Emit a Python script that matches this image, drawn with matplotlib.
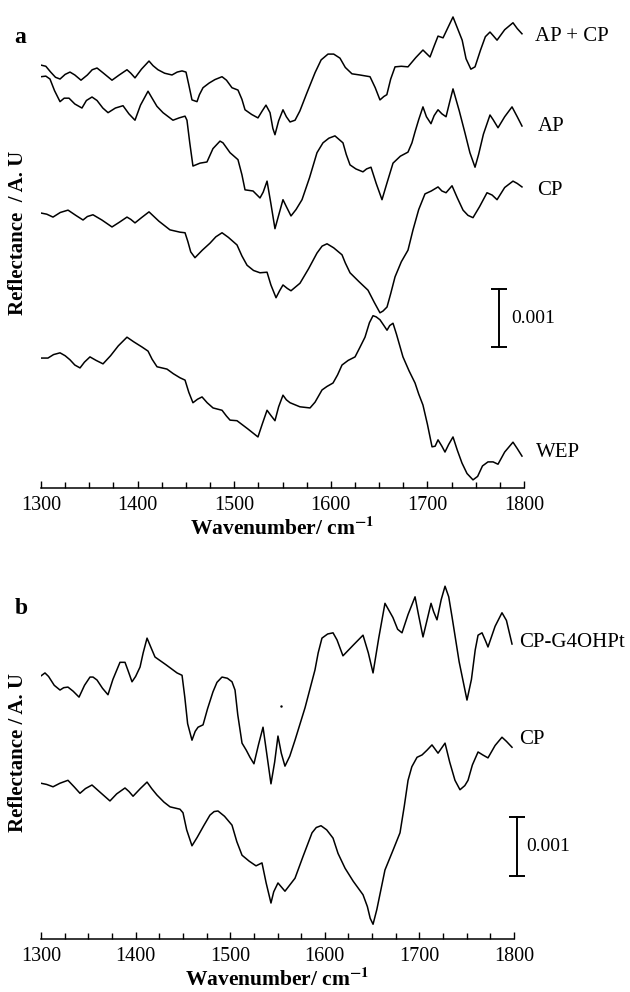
import matplotlib
matplotlib.use("Agg")
import matplotlib.pyplot as plt
from matplotlib.ticker import MultipleLocator

plt.rcParams['font.family'] = ['Liberation Serif', 'DejaVu Serif']
plt.rcParams['mathtext.fontset'] = 'stix'

# offset reflectance spectra, y values in units of 0.001 A.U.
# --- panel a ---
wn_apcp = [1300, 1305, 1310, 1315, 1319.7, 1325, 1330, 1335, 1341.4, 1348, 1353, 1358, 1364,
           1373.5, 1381, 1389, 1393, 1397.3, 1404, 1411.8, 1416, 1421.1, 1428, 1435.6, 1441,
           1446, 1450.1, 1453, 1456.3, 1461.5, 1464, 1467.7, 1474, 1480, 1487.4, 1492, 1497.7,
           1503.9, 1508, 1511.2, 1518, 1524.6, 1529, 1532.9, 1537.1, 1540, 1542.2, 1546,
           1550.5, 1554, 1557.8, 1563, 1568, 1575, 1583.7, 1590, 1597.1, 1603, 1609.5, 1615,
           1621.9, 1630, 1640.6, 1646, 1650.9, 1655, 1658, 1662, 1666.5, 1673, 1679.9, 1688,
           1695.4, 1702.7, 1707, 1711, 1716.2, 1726.5, 1736, 1740, 1745, 1749.3, 1755, 1760,
           1764.8, 1768, 1772.1, 1780, 1788.6, 1793, 1797.9]
r_apcp = [7.29, 7.27, 7.17, 7.08, 7.05, 7.13, 7.17, 7.12, 7.03, 7.12, 7.21, 7.24, 7.16,
          7.03, 7.12, 7.21, 7.15, 7.07, 7.22, 7.36, 7.28, 7.21, 7.15, 7.12, 7.17,
          7.19, 7.17, 6.95, 6.69, 6.66, 6.78, 6.90, 6.98, 7.04, 7.09, 7.03, 6.90,
          6.86, 6.70, 6.52, 6.44, 6.38, 6.50, 6.60, 6.47, 6.20, 6.09, 6.33,
          6.52, 6.40, 6.31, 6.34, 6.50, 6.80, 7.16, 7.38, 7.48, 7.48, 7.41, 7.25,
          7.14, 7.12, 7.09, 6.90, 6.69, 6.75, 6.78, 7.05, 7.26, 7.27, 7.26, 7.42,
          7.55, 7.43, 7.62, 7.79, 7.76, 8.12, 7.72, 7.40, 7.22, 7.26, 7.55, 7.78,
          7.86, 7.80, 7.72, 7.90, 8.02, 7.92, 7.83]

wn_ap = [1300, 1305, 1309.3, 1314, 1319.7, 1324, 1329, 1335, 1342.4, 1347, 1352.8, 1358,
         1364, 1369.4, 1377, 1384.9, 1391, 1397.3, 1403, 1410.8, 1415, 1420, 1426.3, 1436.6,
         1443, 1449.1, 1451.1, 1454, 1457.3, 1464.6, 1471.8, 1478, 1485.3, 1488.4, 1495.7,
         1503.9, 1508, 1511.2, 1519.5, 1526.7, 1530, 1534.0, 1538, 1542.2, 1546, 1550.5,
         1554, 1558.8, 1564, 1570.2, 1578, 1585.7, 1591.9, 1598, 1604.3, 1612.6, 1616,
         1619.9, 1626, 1633.3, 1637, 1641.6, 1647, 1653.0, 1658, 1664.4, 1672, 1679.9, 1684,
         1687.2, 1691, 1695.4, 1699, 1703.7, 1707, 1711.0, 1715, 1719.3, 1723, 1726.5, 1733,
         1738.9, 1744, 1749.3, 1753, 1758, 1764.8, 1768, 1773.1, 1780, 1787.6, 1793, 1797.9]
r_ap = [7.09, 7.10, 7.05, 6.85, 6.66, 6.72, 6.72, 6.62, 6.55, 6.68, 6.74, 6.68,
        6.55, 6.47, 6.55, 6.59, 6.45, 6.34, 6.60, 6.84, 6.72, 6.58, 6.47, 6.34,
        6.38, 6.41, 6.34, 5.95, 5.55, 5.60, 5.62, 5.85, 5.98, 5.95, 5.78,
        5.66, 5.40, 5.14, 5.12, 5.00, 5.10, 5.29, 4.90, 4.47, 4.70, 4.97,
        4.85, 4.69, 4.80, 4.97, 5.35, 5.78, 5.95, 6.03, 6.07, 5.95, 5.75,
        5.57, 5.50, 5.45, 5.50, 5.53, 5.25, 4.97, 5.25, 5.60, 5.72, 5.79, 5.95,
        6.14, 6.35, 6.57, 6.40, 6.28, 6.42, 6.52, 6.45, 6.40, 6.65, 6.88, 6.50,
        6.12, 5.78, 5.53, 5.75, 6.10, 6.43, 6.35, 6.21, 6.40, 6.57, 6.40, 6.24]

wn_cp_a = [1300, 1306, 1312.4, 1320, 1328, 1336, 1343.5, 1348, 1353.8, 1363, 1373.5, 1381,
           1389, 1393, 1397.3, 1404, 1411.8, 1422, 1433.5, 1443.9, 1449.1, 1452, 1455, 1459.4,
           1467, 1474.9, 1481, 1487.4, 1494, 1502.9, 1508, 1513.3, 1520, 1526.7, 1534, 1538,
           1543.3, 1547, 1550.5, 1555, 1558.8, 1568.1, 1577, 1585.7, 1591, 1596.1, 1603,
           1611.6, 1615, 1619.9, 1629, 1638.5, 1645, 1650.9, 1654, 1658.2, 1662, 1666.5, 1673,
           1679.9, 1685.1, 1691, 1697.5, 1704, 1711, 1715, 1719.3, 1725.5, 1731, 1736.9, 1742,
           1747.2, 1754, 1761.7, 1767, 1772.1, 1780, 1788.6, 1793, 1797.9]
r_cp_a = [4.74, 4.72, 4.67, 4.75, 4.79, 4.70, 4.62, 4.68, 4.71, 4.62, 4.50, 4.58,
          4.67, 4.63, 4.57, 4.66, 4.76, 4.60, 4.45, 4.41, 4.40, 4.25, 4.07, 3.97,
          4.10, 4.22, 4.33, 4.40, 4.32, 4.19, 4.00, 3.84, 3.75, 3.71, 3.72, 3.50,
          3.28, 3.40, 3.50, 3.44, 3.40, 3.53, 3.78, 4.05, 4.17, 4.21, 4.14,
          4.02, 3.88, 3.71, 3.56, 3.41, 3.20, 3.02, 3.05, 3.12, 3.35, 3.64, 3.90,
          4.10, 4.45, 4.80, 5.07, 5.12, 5.19, 5.12, 5.09, 5.21, 5.00, 4.79, 4.70,
          4.66, 4.85, 5.09, 5.05, 4.97, 5.18, 5.29, 5.25, 5.19]

wn_wep = [1300, 1307.2, 1313, 1319.7, 1325, 1330, 1335, 1340.4, 1345, 1350.7, 1357, 1364.2,
          1372, 1380, 1389, 1396, 1404.6, 1410.8, 1415, 1420.1, 1430.4, 1437, 1443.9, 1449.1,
          1453, 1457.3, 1462, 1466.7, 1472, 1478.1, 1487.4, 1492, 1495.7, 1502.9, 1514,
          1524.6, 1529, 1534, 1538, 1542.2, 1546, 1550.5, 1554, 1557.8, 1568, 1578.5, 1583.7,
          1590.9, 1596, 1602.3, 1607, 1611.6, 1618, 1625.1, 1630, 1635.4, 1640, 1643.7, 1647,
          1650.9, 1655, 1658.2, 1661, 1664.4, 1668, 1674.7, 1681, 1687.2, 1691, 1695.4, 1700,
          1704.8, 1708, 1711, 1715, 1718.2, 1722, 1726.5, 1731, 1735.8, 1741, 1747.2, 1752,
          1757, 1762.7, 1768, 1773.1, 1780, 1788.6, 1793, 1797.9]
r_wep = [2.24, 2.24, 2.30, 2.33, 2.28, 2.21, 2.12, 2.07, 2.17, 2.26, 2.20, 2.14,
         2.28, 2.45, 2.60, 2.52, 2.43, 2.36, 2.22, 2.09, 2.05, 1.97, 1.90, 1.86,
         1.65, 1.47, 1.53, 1.57, 1.47, 1.38, 1.34, 1.24, 1.17, 1.16, 1.02,
         0.88, 1.10, 1.34, 1.25, 1.16, 1.40, 1.60, 1.52, 1.47, 1.40, 1.38, 1.48,
         1.69, 1.75, 1.81, 1.95, 2.12, 2.20, 2.26, 2.42, 2.60, 2.85, 2.97, 2.95,
         2.90, 2.80, 2.72, 2.80, 2.84, 2.65, 2.26, 2.02, 1.81, 1.62, 1.43, 1.10,
         0.71, 0.72, 0.83, 0.72, 0.62, 0.75, 0.88, 0.65, 0.43, 0.25, 0.14, 0.20,
         0.38, 0.45, 0.45, 0.41, 0.62, 0.79, 0.68, 0.55]

# --- panel b ---
wn_g4 = [1300, 1304.2, 1308, 1314, 1320.1, 1324, 1328.5, 1334, 1340.2, 1346, 1351.8, 1355,
         1359.2, 1365, 1370.8, 1376, 1383.5, 1388.8, 1392, 1396.2, 1400, 1404.7, 1408, 1412.1,
         1416, 1420.5, 1432, 1443.8, 1449.1, 1452, 1455, 1459.6, 1463, 1466, 1471.3, 1476,
         1481.8, 1486, 1491.3, 1497, 1501.9, 1505.1, 1508, 1512.5, 1517, 1520.9, 1525.1, 1530,
         1534.7, 1539, 1543.1, 1547, 1550.5, 1554, 1557.9, 1563, 1568.5, 1579.1, 1589.6, 1593,
         1597, 1603, 1608.7, 1612.9, 1619.2, 1630, 1640.4, 1646, 1651, 1657, 1663.6, 1672,
         1677, 1681.6, 1688, 1695.4, 1699, 1703.8, 1708, 1712.3, 1715, 1718.6, 1723, 1727.1,
         1731, 1734.5, 1742, 1750.3, 1755, 1759, 1762, 1766.2, 1770, 1772.5, 1780, 1787.3,
         1792, 1797.9]
r_g4 = [4.46, 4.51, 4.45, 4.30, 4.22, 4.26, 4.27, 4.20, 4.10, 4.30, 4.44, 4.44,
        4.39, 4.25, 4.14, 4.40, 4.69, 4.69, 4.55, 4.36, 4.45, 4.61, 4.85, 5.10,
        4.95, 4.78, 4.65, 4.51, 4.47, 4.10, 3.65, 3.37, 3.52, 3.59, 3.63, 3.90,
        4.19, 4.35, 4.44, 4.42, 4.36, 4.22, 3.80, 3.32, 3.20, 3.08, 2.97, 3.30,
        3.59, 3.10, 2.63, 3.00, 3.44, 3.15, 2.93, 3.10, 3.37, 3.92, 4.56, 4.85,
        5.10, 5.17, 5.19, 5.07, 4.80, 4.98, 5.15, 4.85, 4.51, 5.10, 5.69, 5.45,
        5.25, 5.19, 5.50, 5.80, 5.50, 5.12, 5.40, 5.69, 5.55, 5.41, 5.75, 5.98,
        5.80, 5.46, 4.70, 4.05, 4.40, 4.90, 5.15, 5.19, 5.05, 4.95, 5.30, 5.53,
        5.40, 5.00]

wn_cp_b = [1300, 1306, 1312.7, 1320, 1328.5, 1335, 1341.2, 1347, 1353.9, 1363, 1372.9, 1380,
           1388.8, 1393, 1397.3, 1405, 1412.1, 1417, 1422.6, 1430, 1436.4, 1446.9, 1450.1, 1454,
           1459.6, 1465, 1472, 1478.6, 1483, 1487.1, 1494, 1501.9, 1507, 1512.5, 1520, 1527.3,
           1533.6, 1538, 1543.1, 1546, 1550.5, 1557.9, 1568.5, 1577, 1586.5, 1591, 1596, 1602,
           1608.7, 1614, 1621.4, 1630, 1640.4, 1645, 1648, 1651, 1655, 1663.6, 1672, 1679.5,
           1684, 1688, 1692, 1697.5, 1702.8, 1708, 1713.3, 1719.7, 1727.1, 1732, 1737.6, 1742.9,
           1748, 1751.4, 1756, 1762, 1767, 1772.5, 1780, 1787.3, 1792, 1797.9]
r_cp_b = [2.64, 2.62, 2.58, 2.64, 2.69, 2.58, 2.47, 2.55, 2.61, 2.48, 2.34, 2.46,
          2.56, 2.50, 2.42, 2.55, 2.66, 2.55, 2.44, 2.32, 2.24, 2.20, 2.14, 1.85,
          1.58, 1.72, 1.92, 2.10, 2.16, 2.17, 2.08, 1.93, 1.65, 1.42, 1.32, 1.24,
          1.29, 0.95, 0.61, 0.80, 0.95, 0.81, 1.03, 1.40, 1.80, 1.89, 1.92, 1.85,
          1.71, 1.45, 1.20, 0.98, 0.75, 0.55, 0.35, 0.25, 0.50, 1.17, 1.50, 1.80,
          2.25, 2.69, 2.92, 3.08, 3.12, 3.20, 3.29, 3.15, 3.32, 3.00, 2.69, 2.53,
          2.60, 2.69, 2.95, 3.17, 3.12, 3.07, 3.28, 3.42, 3.35, 3.25]

# small speck next to the upper trace in panel b
speck_wn, speck_r = [1553.7], [3.95]

fig = plt.figure(figsize=(6.3, 9.92), dpi=100)
ax_a = fig.add_axes([41 / 630, 1 - 488 / 992, 483 / 630, 478 / 992])
ax_b = fig.add_axes([41 / 630, 1 - 939 / 992, 473 / 630, 364 / 992])


def style_axis(ax, ytop):
    ax.set_xlim(1300, 1800)
    ax.set_ylim(0, ytop)
    for side in ['left', 'right', 'top']:
        ax.spines[side].set_visible(False)
    ax.spines['bottom'].set_linewidth(1.1)
    ax.set_yticks([])
    ax.xaxis.set_major_locator(MultipleLocator(100))
    ax.xaxis.set_minor_locator(MultipleLocator(25))
    ax.tick_params(axis='x', which='major', direction='in', length=5, width=1.0,
                   labelsize=14.5, pad=6)
    ax.tick_params(axis='x', which='minor', direction='in', length=4, width=1.0)
    ax.set_xlabel(r'Wavenumber/ cm$^{\mathbf{-1}}$', fontsize=15.5,
                  fontweight='bold', labelpad=1)
    ax.patch.set_alpha(0)


line_kw = dict(color='black', lw=1.1, solid_joinstyle='round')

# panel a
style_axis(ax_a, 8.24)
ax_a.plot(wn_apcp, r_apcp, **line_kw)
ax_a.plot(wn_ap, r_ap, **line_kw)
ax_a.plot(wn_cp_a, r_cp_a, **line_kw)
ax_a.plot(wn_wep, r_wep, **line_kw)
txt_kw = dict(fontsize=15, va='center', ha='left', clip_on=False)
ax_a.text(1811, 7.79, 'AP + CP', **txt_kw)
ax_a.text(1814, 6.24, 'AP', **txt_kw)
ax_a.text(1814, 5.12, 'CP', **txt_kw)
ax_a.text(1812, 0.62, 'WEP', **txt_kw)
# scale bar: 0.001 A.U.
ax_a.plot([1774, 1774], [2.43, 2.43 + 1.0], color='black', lw=1.4,
          marker='_', markersize=11, mew=1.4, clip_on=False)
ax_a.text(1787, 2.93, '0.001', fontsize=14, va='center', ha='left')

# panel b
style_axis(ax_b, 6.17)
ax_b.plot(wn_g4, r_g4, **line_kw)
ax_b.plot(wn_cp_b, r_cp_b, **line_kw)
ax_b.plot(speck_wn, speck_r, 'k.', markersize=1.5)
ax_b.text(1805, 5.02, 'CP-G4OHPt', **txt_kw)
ax_b.text(1805, 3.39, 'CP', **txt_kw)
ax_b.plot([1803, 1803], [1.07, 1.07 + 1.0], color='black', lw=1.4,
          marker='_', markersize=11, mew=1.4, clip_on=False)
ax_b.text(1813, 1.57, '0.001', fontsize=14, va='center', ha='left', clip_on=False)

# panel letters and y labels
fig.text(14 / 630, 1 - 43 / 992, 'a', fontsize=17, fontweight='bold', va='baseline')
fig.text(15 / 630, 1 - 614 / 992, 'b', fontsize=17, fontweight='bold', va='baseline')
fig.text(18 / 630, 1 - 233 / 992, 'Reflectance  / A. U', fontsize=15, fontweight='bold',
         rotation=90, ha='center', va='center')
fig.text(18 / 630, 1 - 752 / 992, 'Reflectance / A. U', fontsize=15, fontweight='bold',
         rotation=90, ha='center', va='center')

fig.savefig('out.png', dpi=100)
